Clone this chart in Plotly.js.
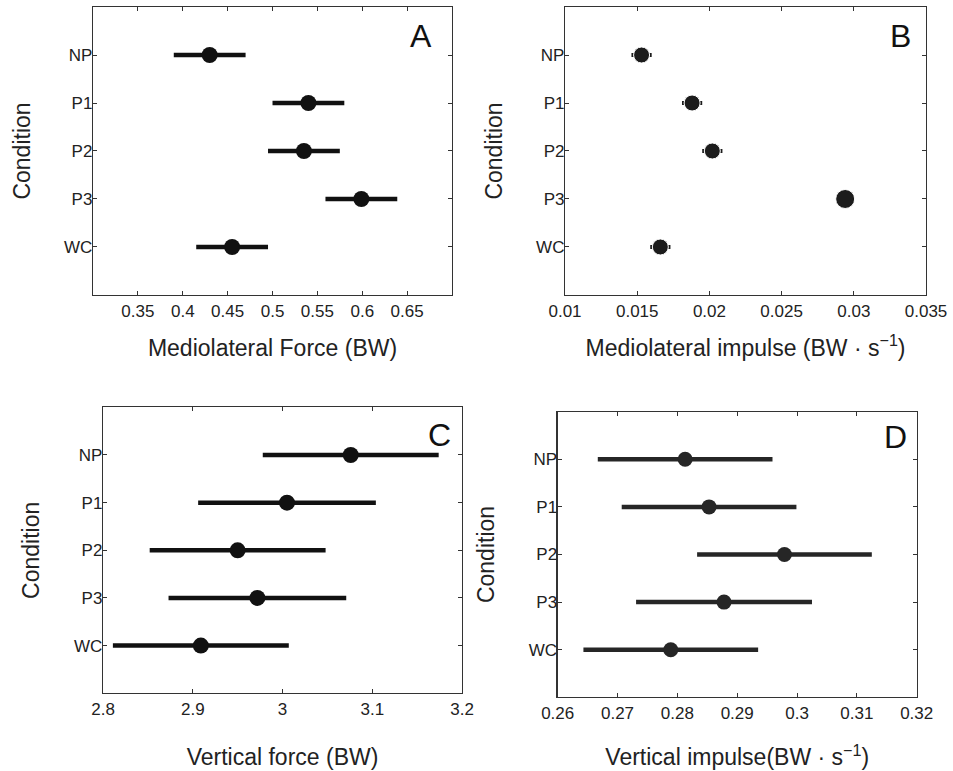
<!DOCTYPE html>
<html>
<head>
<meta charset="utf-8">
<script src="https://cdn.plot.ly/plotly-3.0.1.min.js"></script>
<style>html,body{margin:0;padding:0;background:#fff}#chart{width:953px;height:771px}</style>
</head>
<body>
<div id="chart"></div>
<script>
// Data
var conditions = ["NP", "P1", "P2", "P3", "WC"];

var mlForce      = [0.430, 0.540, 0.535, 0.599, 0.455];
var mlForceErr   = [0.040, 0.040, 0.040, 0.040, 0.040];

var mlImpulse    = [0.0153, 0.0188, 0.0202, 0.0294, 0.0166];
var mlImpulseErr = [0.0007, 0.0007, 0.0007, 0.0006, 0.0007];

var vForce       = [3.076, 3.005, 2.950, 2.972, 2.909];
var vForceErr    = [0.098, 0.099, 0.098, 0.099, 0.098];

var vImpulse     = [0.2813, 0.2853, 0.2979, 0.2878, 0.2789];
var vImpulseErr  = [0.0146, 0.0146, 0.0146, 0.0147, 0.0146];

var ticksA = [0.35, 0.4, 0.45, 0.5, 0.55, 0.6, 0.65];
var ticksB = [0.01, 0.015, 0.02, 0.025, 0.03, 0.035];
var ticksC = [2.8, 2.9, 3, 3.1, 3.2];
var ticksD = [0.26, 0.27, 0.28, 0.29, 0.3, 0.31, 0.32];

var FONT = "'Liberation Sans', Arial, Helvetica, sans-serif";

function trace(x, err, xa, ya, color, size, thick) {
  return {
    type: "scatter", mode: "markers",
    x: x, y: conditions, xaxis: xa, yaxis: ya,
    marker: {color: color, size: size, opacity: 1},
    error_x: {type: "data", array: err, visible: true, color: color, thickness: thick, width: 0},
    showlegend: false, hoverinfo: "x+y"
  };
}

var data = [
  trace(mlForce, mlForceErr, "x", "y", "#111", 16, 4.5),
  trace(mlImpulse, mlImpulseErr, "x2", "y2", "#1c1c1c", [16, 16, 16, 19, 16], 4),
  trace(vForce, vForceErr, "x3", "y3", "#111", 16, 4.5),
  trace(vImpulse, vImpulseErr, "x4", "y4", "#262626", 15, 4.5)
];

function xax(domain, range, ticks, title, anchor, standoff) {
  return {
    domain: domain, range: range, anchor: anchor,
    tickmode: "array", tickvals: ticks, ticktext: ticks.map(String),
    ticks: "inside", ticklen: 4, tickcolor: "#333", tickwidth: 1,
    showline: true, linecolor: "#333", linewidth: 1.2, mirror: "ticks",
    showgrid: false, zeroline: false,
    tickfont: {family: FONT, size: 17, color: "#222"},
    title: {text: title, font: {family: FONT, size: 23, color: "#222"}, standoff: standoff}
  };
}
function yax(domain, anchor, standoff) {
  return {
    domain: domain, anchor: anchor, type: "category",
    categoryorder: "array", categoryarray: conditions,
    range: [5, -1],
    ticks: "inside", ticklen: 4, tickcolor: "#333", tickwidth: 1,
    showline: true, linecolor: "#333", linewidth: 1.2, mirror: "ticks",
    showgrid: false, zeroline: false,
    tickfont: {family: FONT, size: 17, color: "#222"},
    ticklabelstandoff: -4,
    title: {text: "Condition", font: {family: FONT, size: 23, color: "#222"}, standoff: standoff}
  };
}

function letter(t, xr, yr, x, y) {
  return {text: t, xref: xr, yref: yr, x: x, y: y, xanchor: "center", yanchor: "middle",
          showarrow: false, font: {family: FONT, size: 32, color: "#111"}};
}

var layout = {
  width: 953, height: 771,
  margin: {l: 0, r: 0, t: 0, b: 0},
  paper_bgcolor: "#fff", plot_bgcolor: "#fff",
  xaxis:  xax([0.0976, 0.4743], [0.3, 0.7], ticksA, "Mediolateral Force (BW)", "y", 20),
  yaxis:  yax([0.6174, 0.9909], "x", 27),
  xaxis2: xax([0.5929, 0.9717], [0.01, 0.035], ticksB, "Mediolateral impulse (BW · s<sup>−1</sup>)", "y2", 20),
  yaxis2: yax([0.6174, 0.9909], "x2", 27),
  xaxis3: xax([0.1081, 0.4848], [2.8, 3.2], ticksC, "Vertical force (BW)", "y3", 31),
  yaxis3: yax([0.1008, 0.4717], "x3", 28),
  xaxis4: xax([0.5852, 0.9619], [0.26, 0.32], ticksD, "Vertical impulse(BW · s<sup>−1</sup>)", "y4", 27),
  yaxis4: yax([0.0956, 0.4660], "x4", 27),
  annotations: [
    letter("A", "x domain", "y domain", 0.914, 0.9),
    letter("B", "x2 domain", "y2 domain", 0.93, 0.9),
    letter("C", "x3 domain", "y3 domain", 0.936, 0.903),
    letter("D", "x4 domain", "y4 domain", 0.942, 0.91)
  ]
};

Plotly.newPlot("chart", data, layout, {displayModeBar: false, staticPlot: true});
</script>
</body>
</html>
